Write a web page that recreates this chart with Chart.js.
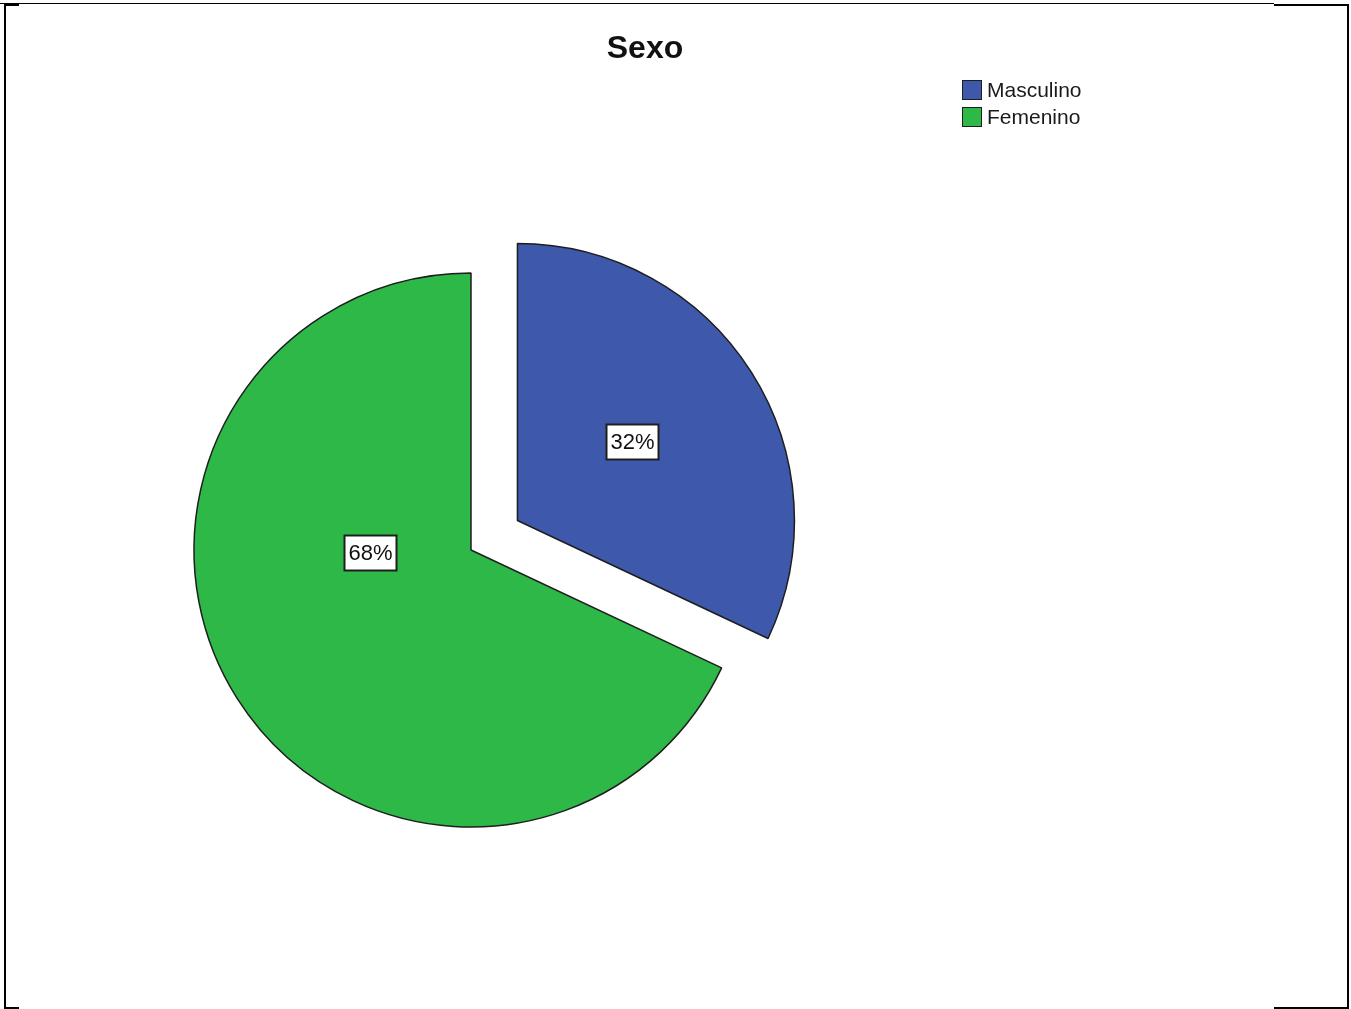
<!DOCTYPE html>
<html>
<head>
<meta charset="utf-8">
<title>Sexo</title>
<script src="https://cdn.jsdelivr.net/npm/chart.js@4.4.1/dist/chart.umd.min.js"></script>
<style>
  html, body { margin: 0; padding: 0; background: #fff; }
  body { width: 1351px; height: 1009px; overflow: hidden; position: relative;
         font-family: "Liberation Sans", Arial, sans-serif; }
  #chart { position: absolute; left: 0; top: 0; }
  .rule { position: absolute; background: #000; }
  #title { position: absolute; left: 545px; width: 200px; top: 29px; text-align: center;
           font-weight: bold; font-size: 32px; line-height: 36px; color: #111; }
  #legend { position: absolute; left: 962px; top: 76px; }
  .item { display: flex; align-items: center; height: 27px; font-size: 21px; color: #1a1a1a; }
  .sw { width: 18px; height: 18px; border: 1.5px solid #1e1e1e; margin-right: 5px; flex: none; }
</style>
</head>
<body>
<!-- page frame -->
<div class="rule" style="left:0;top:3px;width:1274px;height:1px"></div>
<div class="rule" style="left:4px;top:4px;width:15px;height:2px"></div>
<div class="rule" style="left:1274px;top:4px;width:75px;height:2px"></div>
<div class="rule" style="left:4px;top:4px;width:2px;height:1005px"></div>
<div class="rule" style="left:1347px;top:4px;width:2px;height:1005px"></div>
<div class="rule" style="left:4px;top:1007px;width:15px;height:2px"></div>
<div class="rule" style="left:1274px;top:1007px;width:75px;height:2px"></div>

<canvas id="chart" width="1351" height="1009"></canvas>
<div id="title"></div>
<div id="legend"></div>

<script>
// Chart content
const chartTitle = 'Sexo';
const categories = ['Masculino', 'Femenino'];
const percentages = [32, 68];
const sliceColors = ['#3e58ac', '#2eb848'];

// Pull a slice out of the pie along its mid-angle (pixels per slice)
const explodePlugin = {
  id: 'explode',
  beforeDatasetDraw(chart, args, opts) {
    const ctx = chart.ctx;
    const dist = opts.distance || [];
    args.meta.data.forEach((arc, i) => {
      const d = dist[i] || 0;
      const mid = (arc.startAngle + arc.endAngle) / 2;
      ctx.save();
      ctx.translate(Math.cos(mid) * d, Math.sin(mid) * d);
      arc.draw(ctx, chart.chartArea);
      ctx.restore();
    });
    return false;
  }
};

// Boxed percentage labels inside each slice
const sliceLabels = {
  id: 'sliceLabels',
  afterDatasetsDraw(chart, args, opts) {
    const ctx = chart.ctx;
    const meta = chart.getDatasetMeta(0);
    const data = chart.data.datasets[0].data;
    const total = data.reduce((a, b) => a + b, 0);
    const dist = (chart.options.plugins.explode || {}).distance || [];
    meta.data.forEach((arc, i) => {
      const mid = (arc.startAngle + arc.endAngle) / 2;
      const d = dist[i] || 0;
      const cx = arc.x + Math.cos(mid) * d;
      const cy = arc.y + Math.sin(mid) * d;
      const anchor = opts.anchors[i];
      const a = (anchor.angle - 90) * Math.PI / 180;
      const px = cx + Math.cos(a) * anchor.frac * arc.outerRadius;
      const py = cy + Math.sin(a) * anchor.frac * arc.outerRadius;
      const text = Math.round(data[i] / total * 100) + '%';
      ctx.save();
      ctx.font = opts.font;
      const w = Math.round(ctx.measureText(text).width + opts.padX * 2);
      const h = opts.boxHeight;
      const bx = Math.round(px - w / 2) + 0.5;
      const by = Math.round(py - h / 2) + 0.5;
      ctx.fillStyle = '#ffffff';
      ctx.fillRect(bx, by, w, h);
      ctx.lineWidth = 2;
      ctx.strokeStyle = '#1e1e1e';
      ctx.strokeRect(bx, by, w, h);
      ctx.fillStyle = '#111';
      ctx.textAlign = 'center';
      ctx.textBaseline = 'middle';
      ctx.fillText(text, bx + w / 2, by + h / 2 + 1);
      ctx.restore();
    });
  }
};

new Chart(document.getElementById('chart'), {
  type: 'pie',
  data: {
    labels: categories,
    datasets: [{
      data: percentages,
      backgroundColor: sliceColors,
      borderColor: '#1e1e1e',
      borderWidth: 1.5,
      clip: false
    }]
  },
  options: {
    responsive: false,
    animation: false,
    events: [],
    radius: 277,
    rotation: 0,
    layout: { padding: { left: 171, right: 580, top: 250, bottom: 159 } },
    plugins: {
      legend: { display: false },
      title: { display: false },
      tooltip: { enabled: false },
      explode: { distance: [55, 0] },
      sliceLabels: {
        font: '22px "Liberation Sans", Arial, sans-serif',
        padX: 4,
        boxHeight: 35,
        anchors: [{ angle: 55.3, frac: 0.504 }, { angle: 268.6, frac: 0.366 }]
      }
    }
  },
  plugins: [explodePlugin, sliceLabels]
});

// Title and legend as page text
document.getElementById('title').textContent = chartTitle;
const legend = document.getElementById('legend');
categories.forEach((name, i) => {
  const item = document.createElement('div');
  item.className = 'item';
  const sw = document.createElement('span');
  sw.className = 'sw';
  sw.style.background = sliceColors[i];
  const label = document.createElement('span');
  label.textContent = name;
  item.appendChild(sw);
  item.appendChild(label);
  legend.appendChild(item);
});
</script>
</body>
</html>
